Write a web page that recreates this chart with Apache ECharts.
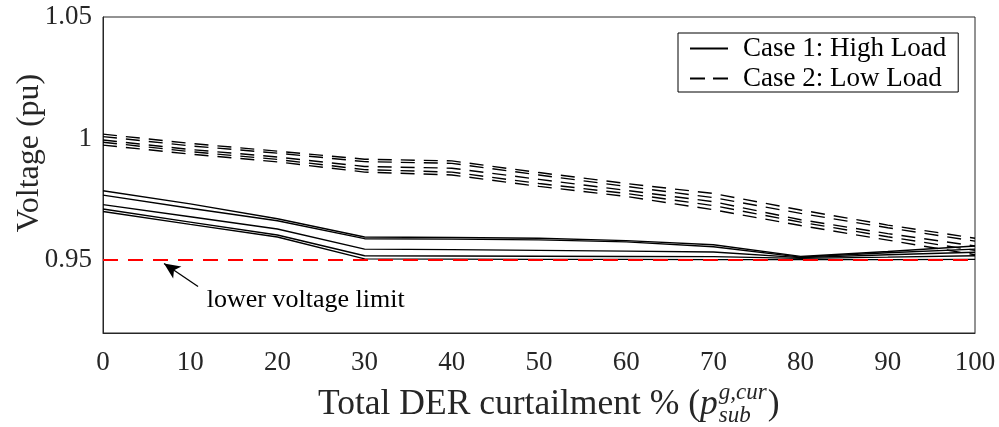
<!DOCTYPE html>
<html lang="en">
<head>
    <meta charset="UTF-8">
    <title>DER curtailment</title>
    <script src="https://cdn.jsdelivr.net/npm/echarts@6/dist/echarts.min.js"></script>
</head>
<style>
    html, body { margin: 0; padding: 0; background: #fff; }
    #main { width: 999px; height: 427px; }
</style>
<body>
<div id="main"></div>
</body>
<script>
    // curtailment steps (%)
    var curtail = [0, 10, 20, 30, 40, 50, 60, 70, 80, 90, 100];

    // case 1: high load (solid)
    var high1 = [0.9785, 0.9731, 0.9670, 0.9595, 0.9593, 0.9590, 0.9580, 0.9563, 0.9515, 0.9535, 0.9558];
    var high2 = [0.9767, 0.9713, 0.9662, 0.9588, 0.9586, 0.9583, 0.9575, 0.9555, 0.9512, 0.9530, 0.9545];
    var high3 = [0.9728, 0.9678, 0.9628, 0.9545, 0.9543, 0.9540, 0.9537, 0.9533, 0.9510, 0.9522, 0.9532];
    var high4 = [0.9710, 0.9656, 0.9603, 0.9518, 0.9517, 0.9516, 0.9515, 0.9514, 0.9507, 0.9512, 0.9518];
    var high5 = [0.9700, 0.9647, 0.9595, 0.9505, 0.9504, 0.9503, 0.9503, 0.9502, 0.9502, 0.9502, 0.9503];

    // case 2: low load (dashed)
    var low1 = [1.0018, 0.9980, 0.9948, 0.9915, 0.9908, 0.9860, 0.9815, 0.9774, 0.9706, 0.9644, 0.9590];
    var low2 = [1.0008, 0.9970, 0.9940, 0.9905, 0.9898, 0.9850, 0.9803, 0.9757, 0.9692, 0.9633, 0.9578];
    var low3 = [0.9994, 0.9955, 0.9924, 0.9885, 0.9878, 0.9832, 0.9787, 0.9740, 0.9666, 0.9609, 0.9558];
    var low4 = [0.9985, 0.9946, 0.9914, 0.9872, 0.9862, 0.9815, 0.9774, 0.9724, 0.9656, 0.9596, 0.9540];
    var low5 = [0.9973, 0.9936, 0.9904, 0.9862, 0.9850, 0.9803, 0.9762, 0.9707, 0.9642, 0.9582, 0.9522];

    var limitV = 0.95;
    var yTicks = [0.95, 1, 1.05];

    var highName = 'Case 1: High Load';
    var lowName = 'Case 2: Low Load';
    var serif = '"Liberation Serif", "DejaVu Serif", serif';

    function pairs(ys) {
        var out = [];
        for (var i = 0; i < curtail.length; i++) out.push([curtail[i], ys[i]]);
        return out;
    }

    function lineSeries(name, ys, dashed) {
        return {
            name: name,
            type: 'line',
            data: pairs(ys),
            symbol: 'none',
            silent: true,
            z: 3,
            itemStyle: { color: '#000' },
            lineStyle: { color: '#000', width: 1.4, type: dashed ? [14, 9] : 'solid' }
        };
    }

    // measure text for the x title pieces
    var ctx = document.createElement('canvas').getContext('2d');
    function textW(str, font) { ctx.font = font; return ctx.measureText(str).width; }

    var tFont = '32px ' + serif;
    var xFont = '35.5px ' + serif;
    var sFont = 'italic 23px ' + serif;
    var xMain = 'Total DER curtailment % (';
    var x0 = 318, yMid = 405;
    var wMain = textW(xMain, xFont);
    var wP = textW('p', 'italic ' + xFont);
    var xSup = x0 + wMain + wP + 1;
    var wSup = Math.max(textW('g,cur', sFont), textW('sub', sFont));

    var myChart = echarts.init(document.getElementById('main'));
    var series = [
        lineSeries(highName, high1, false),
        lineSeries(highName, high2, false),
        lineSeries(highName, high3, false),
        lineSeries(highName, high4, false),
        lineSeries(highName, high5, false),
        lineSeries(lowName, low1, true),
        lineSeries(lowName, low2, true),
        lineSeries(lowName, low3, true),
        lineSeries(lowName, low4, true),
        lineSeries(lowName, low5, true),
        {
            name: 'limit',
            type: 'line',
            data: [[0, limitV], [100, limitV]],
            symbol: 'none',
            silent: true,
            z: 5,
            lineStyle: { color: '#ff0000', width: 2, type: [15, 10] },
            markLine: {
                silent: true,
                symbol: ['none', 'arrow'],
                symbolSize: [11, 16],
                label: { show: false },
                lineStyle: { color: '#000', width: 1.3, type: 'solid' },
                data: [[{ coord: [10.9, 0.9391] }, { coord: [7.0, 0.9486] }]]
            },
            markPoint: {
                silent: true,
                symbol: 'circle',
                symbolSize: 0,
                label: {
                    show: true, position: 'right', distance: 0,
                    formatter: 'lower voltage limit',
                    color: '#000', fontFamily: serif, fontSize: 26
                },
                data: [{ coord: [11.9, 0.9333] }]
            }
        }
    ];

    var option = {
        animation: false,
        backgroundColor: '#fff',
        grid: {
            left: 103, right: 24, top: 17, bottom: 94,
            show: true, borderColor: '#262626', borderWidth: 1,
            containLabel: false, outerBoundsMode: 'none'
        },
        legend: {
            data: [
                { name: highName, icon: 'path://M0,0 H38 V2 H0 Z' },
                { name: lowName, icon: 'path://M0,0 H15 V2 H0 Z M23,0 H38 V2 H23 Z' }
            ],
            orient: 'vertical',
            left: 678, top: 33,
            padding: [2, 12, 0, 12],
            itemWidth: 38, itemHeight: 2, itemGap: 3,
            backgroundColor: '#fff',
            borderColor: '#000', borderWidth: 1, borderRadius: 0,
            selectedMode: false,
            itemStyle: { color: '#000' },
            textStyle: { fontFamily: serif, fontSize: 27, lineHeight: 24, color: '#000', padding: [0, 0, 0, 10] }
        },
        xAxis: {
            type: 'value',
            min: 0, max: 100, interval: 10,
            axisLine: { lineStyle: { color: '#262626', width: 1 } },
            axisTick: { show: false },
            splitLine: { show: false },
            axisLabel: { color: '#262626', fontFamily: serif, fontSize: 27, margin: 16 }
        },
        yAxis: {
            type: 'value',
            min: 0.92, max: 1.05,
            axisLine: { show: true, lineStyle: { color: '#262626', width: 1 } },
            axisTick: { show: false },
            splitLine: { show: false },
            axisLabel: {
                color: '#262626', fontFamily: serif, fontSize: 27, margin: 11,
                customValues: yTicks,
                formatter: function (v) { return String(+v.toFixed(2)); }
            }
        },
        graphic: [
            {
                type: 'text', x: 30, y: 153, rotation: Math.PI / 2,
                style: { text: 'Voltage (pu)', font: tFont, fill: '#262626', align: 'center', verticalAlign: 'middle' }
            },
            {
                type: 'text', x: x0, y: yMid,
                style: { text: xMain, font: xFont, fill: '#262626', align: 'left', verticalAlign: 'middle' }
            },
            {
                type: 'text', x: x0 + wMain, y: yMid,
                style: { text: 'p', font: 'italic ' + xFont, fill: '#262626', align: 'left', verticalAlign: 'middle' }
            },
            {
                type: 'text', x: xSup, y: yMid - 12,
                style: { text: 'g,cur', font: sFont, fill: '#262626', align: 'left', verticalAlign: 'middle' }
            },
            {
                type: 'text', x: xSup, y: yMid + 11,
                style: { text: 'sub', font: sFont, fill: '#262626', align: 'left', verticalAlign: 'middle' }
            },
            {
                type: 'text', x: xSup + wSup + 1, y: yMid,
                style: { text: ')', font: xFont, fill: '#262626', align: 'left', verticalAlign: 'middle' }
            }
        ],
        series: series
    };
    myChart.setOption(option);
</script>
</html>
